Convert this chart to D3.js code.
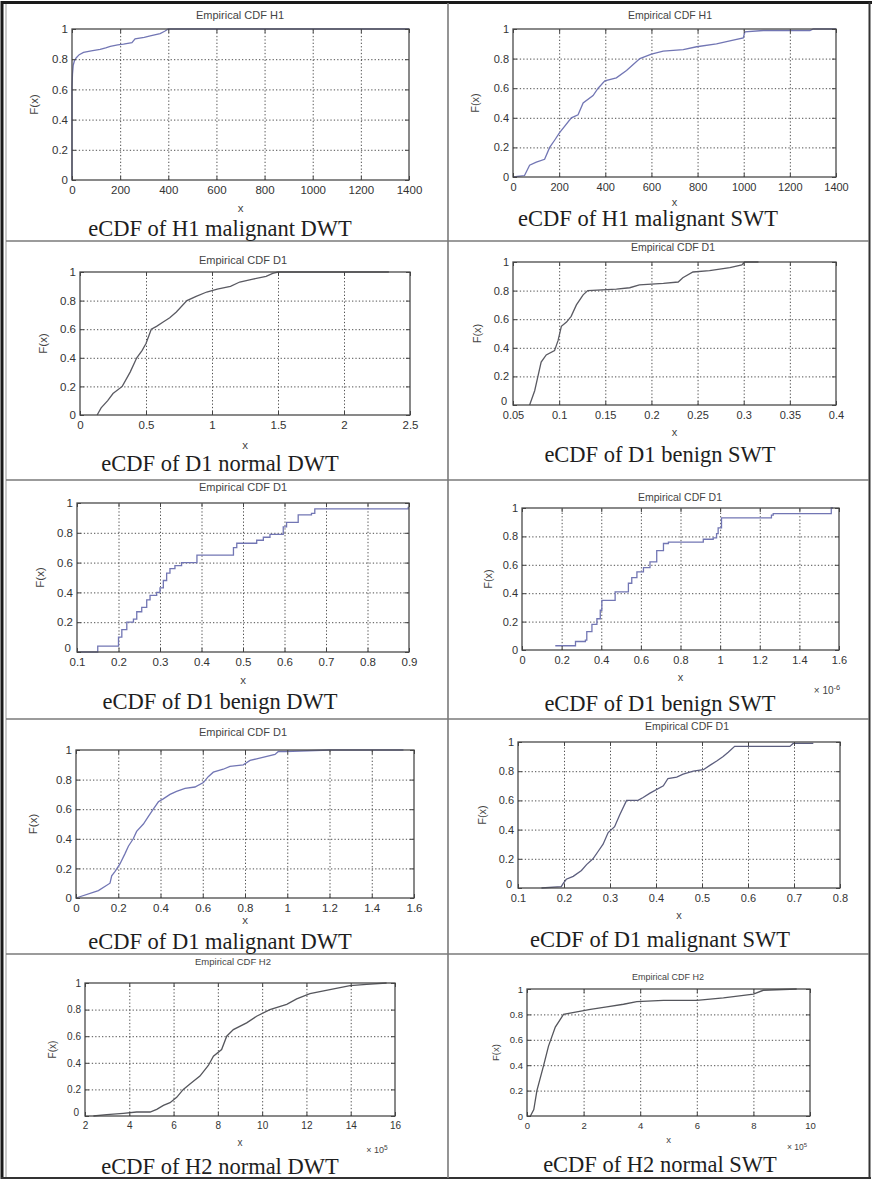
<!DOCTYPE html>
<html>
<head>
<meta charset="utf-8">
<title>eCDF panels</title>
<script src="https://cdnjs.cloudflare.com/ajax/libs/d3/7.8.5/d3.min.js"></script>
<style>
  body { margin: 0; background: #fff; }
  svg { display: block; }
  .tick text { font-family: Arial, "Liberation Sans", sans-serif; fill: #333; }
  .grid line { stroke: #3c3c3c; stroke-dasharray: 1.3,2.1; stroke-width: 0.9; }
  .grid .domain { display: none; }
  .ax .domain { display: none; }
  .ax line { stroke: #444; }
  .title, .lab { font-family: Arial, "Liberation Sans", sans-serif; fill: #444; }
  .caption { font-family: "Liberation Serif", "Times New Roman", serif; fill: #1e1e1e; }
</style>
</head>
<body>
<svg width="873" height="1181"></svg>
<script>
// ---- data (x value, F(x) value) ----
var h1MalDwtX = [0, 0, 2, 5, 10, 18, 30, 48, 80, 117, 140, 159, 190, 214, 249, 262, 300, 325, 366, 385, 400, 1400];
var h1MalDwtF = [0, 0.62, 0.7, 0.76, 0.79, 0.81, 0.83, 0.845, 0.855, 0.865, 0.875, 0.885, 0.895, 0.9, 0.91, 0.935, 0.945, 0.955, 0.97, 0.985, 1, 1];

var h1MalSwtX = [0, 50, 72, 101, 137, 159, 181, 202, 253, 282, 304, 347, 369, 398, 448, 492, 521, 550, 600, 651, 738, 796, 882, 940, 998, 1005, 1085, 1287, 1302, 1400];
var h1MalSwtF = [0, 0.01, 0.08, 0.1, 0.12, 0.2, 0.25, 0.3, 0.4, 0.42, 0.5, 0.55, 0.6, 0.65, 0.67, 0.72, 0.76, 0.8, 0.83, 0.85, 0.86, 0.88, 0.9, 0.92, 0.94, 0.98, 0.99, 0.99, 1, 1];

var d1NorDwtX = [0.13, 0.16, 0.21, 0.25, 0.32, 0.38, 0.43, 0.47, 0.5, 0.54, 0.58, 0.63, 0.68, 0.73, 0.81, 0.88, 0.96, 1.04, 1.14, 1.21, 1.31, 1.41, 1.46, 1.5, 2.34];
var d1NorDwtF = [0, 0.05, 0.1, 0.15, 0.2, 0.3, 0.4, 0.45, 0.5, 0.6, 0.62, 0.65, 0.68, 0.72, 0.8, 0.83, 0.86, 0.88, 0.9, 0.93, 0.95, 0.97, 0.99, 1, 1];

var d1BenSwtX = [0.068, 0.0735, 0.077, 0.0805, 0.086, 0.095, 0.0988, 0.1024, 0.108, 0.113, 0.1187, 0.126, 0.131, 0.162, 0.1765, 0.187, 0.213, 0.229, 0.234, 0.245, 0.263, 0.285, 0.298, 0.301, 0.316];
var d1BenSwtF = [0, 0.1, 0.2, 0.3, 0.35, 0.38, 0.45, 0.55, 0.58, 0.62, 0.7, 0.77, 0.8, 0.81, 0.82, 0.84, 0.85, 0.86, 0.89, 0.93, 0.94, 0.96, 0.98, 1, 1];

var d1BenDwtX = [0.1, 0.15, 0.2, 0.208, 0.22, 0.236, 0.244, 0.256, 0.268, 0.276, 0.292, 0.3, 0.308, 0.316, 0.324, 0.336, 0.352, 0.389, 0.477, 0.485, 0.533, 0.549, 0.565, 0.597, 0.605, 0.633, 0.665, 0.673, 0.898, 0.9];
var d1BenDwtF = [0, 0.04, 0.1, 0.15, 0.2, 0.22, 0.27, 0.3, 0.35, 0.38, 0.4, 0.43, 0.48, 0.53, 0.56, 0.58, 0.6, 0.65, 0.7, 0.73, 0.75, 0.77, 0.79, 0.84, 0.87, 0.92, 0.93, 0.96, 0.97, 0.97];

var d1BenSwt2X = [0.168, 0.27, 0.32, 0.327, 0.353, 0.378, 0.395, 0.403, 0.47, 0.537, 0.554, 0.58, 0.613, 0.646, 0.68, 0.714, 0.739, 0.915, 0.965, 0.982, 0.99, 1.007, 1.259, 1.268, 1.561, 1.57];
var d1BenSwt2F = [0.03, 0.06, 0.07, 0.13, 0.18, 0.22, 0.28, 0.35, 0.41, 0.47, 0.51, 0.55, 0.58, 0.62, 0.7, 0.75, 0.76, 0.78, 0.79, 0.82, 0.86, 0.93, 0.95, 0.96, 1, 1];

var d1MalDwtX = [0, 0.106, 0.161, 0.169, 0.185, 0.208, 0.232, 0.248, 0.271, 0.287, 0.319, 0.342, 0.366, 0.39, 0.413, 0.445, 0.476, 0.516, 0.563, 0.603, 0.626, 0.65, 0.697, 0.729, 0.792, 0.824, 0.855, 0.942, 0.958, 0.99, 1.202, 1.55];
var d1MalDwtF = [0, 0.05, 0.1, 0.15, 0.18, 0.23, 0.3, 0.35, 0.4, 0.45, 0.5, 0.55, 0.6, 0.65, 0.67, 0.7, 0.72, 0.74, 0.75, 0.78, 0.82, 0.85, 0.87, 0.89, 0.9, 0.93, 0.94, 0.97, 0.99, 0.99, 1, 1];

var d1MalSwtX = [0.151, 0.194, 0.198, 0.205, 0.22, 0.238, 0.249, 0.263, 0.274, 0.285, 0.296, 0.31, 0.321, 0.336, 0.361, 0.372, 0.387, 0.416, 0.426, 0.445, 0.459, 0.481, 0.503, 0.517, 0.532, 0.546, 0.557, 0.571, 0.691, 0.698, 0.742];
var d1MalSwtF = [0, 0.01, 0.03, 0.06, 0.08, 0.12, 0.16, 0.2, 0.25, 0.3, 0.38, 0.42, 0.5, 0.6, 0.6, 0.62, 0.65, 0.7, 0.75, 0.76, 0.78, 0.8, 0.81, 0.84, 0.87, 0.9, 0.93, 0.97, 0.97, 0.99, 0.99];

var h2NorDwtX = [2.38, 2.98, 3.73, 4.33, 4.94, 5.24, 5.54, 5.84, 6.14, 6.44, 6.74, 7.19, 7.57, 7.8, 8.17, 8.4, 8.7, 9.3, 9.75, 10.35, 11.11, 11.56, 12.16, 13.06, 13.97, 14.72, 15.62];
var h2NorDwtF = [0, 0.01, 0.02, 0.03, 0.03, 0.05, 0.08, 0.1, 0.14, 0.2, 0.24, 0.3, 0.38, 0.45, 0.5, 0.6, 0.65, 0.7, 0.75, 0.8, 0.84, 0.88, 0.92, 0.95, 0.98, 0.99, 1];

var h2NorSwtX = [0.12, 0.24, 0.35, 0.59, 0.76, 1.0, 1.29, 1.76, 2.24, 2.82, 3.41, 3.88, 4.82, 6.0, 6.94, 7.65, 8.0, 8.35, 9.53];
var h2NorSwtF = [0, 0.05, 0.2, 0.4, 0.55, 0.7, 0.8, 0.82, 0.84, 0.86, 0.88, 0.9, 0.91, 0.91, 0.93, 0.95, 0.96, 0.99, 1];

// ---- tick values ----
var yTicks = [0, 0.2, 0.4, 0.6, 0.8, 1];
var ticks1400 = [0, 200, 400, 600, 800, 1000, 1200, 1400];
var ticks25 = [0, 0.5, 1, 1.5, 2, 2.5];
var ticks04 = [0.05, 0.1, 0.15, 0.2, 0.25, 0.3, 0.35, 0.4];
var ticks09 = [0.1, 0.2, 0.3, 0.4, 0.5, 0.6, 0.7, 0.8, 0.9];
var ticks16 = [0, 0.2, 0.4, 0.6, 0.8, 1, 1.2, 1.4, 1.6];
var ticks08 = [0.1, 0.2, 0.3, 0.4, 0.5, 0.6, 0.7, 0.8];
var ticks2to16 = [2, 4, 6, 8, 10, 12, 14, 16];
var ticks10 = [0, 2, 4, 6, 8, 10];

var titles = ["Empirical CDF H1", "Empirical CDF H1", "Empirical CDF D1", "Empirical CDF D1", "Empirical CDF D1",
              "Empirical CDF D1", "Empirical CDF D1", "Empirical CDF D1", "Empirical CDF H2", "Empirical CDF H2"];
var captions = ["eCDF of H1 malignant DWT", "eCDF of H1 malignant SWT", "eCDF of D1 normal DWT", "eCDF of D1 benign SWT",
                "eCDF of D1 benign DWT", "eCDF of D1 benign SWT", "eCDF of D1 malignant DWT", "eCDF of D1 malignant SWT",
                "eCDF of H2 normal DWT", "eCDF of H2 normal SWT"];
var exponents = [null, null, null, null, null, "-6", null, null, "5", "5"];

var svg = d3.select("svg");

// table frame
var frame = svg.append("g");
frame.append("line").attr("x1", 2).attr("x2", 2).attr("y1", 1).attr("y2", 1179).attr("stroke", "#1a1a1a").attr("stroke-width", 3);
frame.append("line").attr("x1", 6).attr("x2", 6).attr("y1", 4).attr("y2", 1177).attr("stroke", "#999").attr("stroke-width", 1);
frame.append("line").attr("x1", 1).attr("x2", 872).attr("y1", 2.5).attr("y2", 2.5).attr("stroke", "#1a1a1a").attr("stroke-width", 3);
frame.append("line").attr("x1", 869.5).attr("x2", 869.5).attr("y1", 2).attr("y2", 1179).attr("stroke", "#333").attr("stroke-width", 2);
frame.append("line").attr("x1", 1).attr("x2", 871).attr("y1", 1178).attr("y2", 1178).attr("stroke", "#333").attr("stroke-width", 2);
frame.append("line").attr("x1", 448).attr("x2", 448).attr("y1", 3).attr("y2", 1178).attr("stroke", "#7a7a7a").attr("stroke-width", 1.6);
[241, 480, 719, 954].forEach(function (yy) {
  frame.append("line").attr("x1", 6).attr("x2", 869).attr("y1", yy).attr("y2", yy).attr("stroke", "#7a7a7a").attr("stroke-width", 1.6);
});

var panels = [
  { xs: h1MalDwtX, fs: h1MalDwtF, dom: [0, 1400], ticks: ticks1400, color: "#7276b4", step: false,
    box: { l: 72, r: 409, t: 29, b: 180 }, tx: 240, ty: 15, xl: 208, cx: 220, cy: 236, fs1: 11.5, ylx: 34 },
  { xs: h1MalSwtX, fs: h1MalSwtF, dom: [0, 1400], ticks: ticks1400, color: "#7276b4", step: false,
    box: { l: 513, r: 836, t: 29, b: 177 }, tx: 670, ty: 15, xl: 202, cx: 648, cy: 226, fs1: 11, ylx: 475 },
  { xs: d1NorDwtX, fs: d1NorDwtF, dom: [0, 2.5], ticks: ticks25, color: "#5a5a62", step: false,
    box: { l: 80, r: 410, t: 272, b: 415 }, tx: 243, ty: 260, xl: 445, cx: 220, cy: 471, fs1: 11.5, ylx: 43 },
  { xs: d1BenSwtX, fs: d1BenSwtF, dom: [0.05, 0.4], ticks: ticks04, color: "#5a5a62", step: false,
    box: { l: 513, r: 836, t: 262, b: 405 }, tx: 673, ty: 247, xl: 432, cx: 660, cy: 462, fs1: 11, ylx: 477 },
  { xs: d1BenDwtX, fs: d1BenDwtF, dom: [0.1, 0.9], ticks: ticks09, color: "#7276b4", step: true,
    box: { l: 77, r: 409, t: 503, b: 652 }, tx: 243, ty: 487, xl: 680, cx: 220, cy: 709, fs1: 11.5, ylx: 40 },
  { xs: d1BenSwt2X, fs: d1BenSwt2F, dom: [0, 1.6], ticks: ticks16, color: "#7276b4", step: true,
    box: { l: 522, r: 839, t: 508, b: 650 }, tx: 680, ty: 497, xl: 677, cx: 660, cy: 711, fs1: 11, ylx: 488 },
  { xs: d1MalDwtX, fs: d1MalDwtF, dom: [0, 1.6], ticks: ticks16, color: "#7276b4", step: false,
    box: { l: 76, r: 414, t: 750, b: 898 }, tx: 243, ty: 732, xl: 920, cx: 220, cy: 949, fs1: 11.5, ylx: 33 },
  { xs: d1MalSwtX, fs: d1MalSwtF, dom: [0.1, 0.8], ticks: ticks08, color: "#5c5e7e", step: false,
    box: { l: 518, r: 840, t: 742, b: 888 }, tx: 687, ty: 726, xl: 915, cx: 660, cy: 947, fs1: 11, ylx: 482 },
  { xs: h2NorDwtX, fs: h2NorDwtF, dom: [2, 16], ticks: ticks2to16, color: "#55565c", step: false,
    box: { l: 85, r: 395, t: 983, b: 1116 }, tx: 233, ty: 962, xl: 1142, cx: 220, cy: 1174, fs1: 10, ylx: 52, ex: 377, ey: 1150 },
  { xs: h2NorSwtX, fs: h2NorSwtF, dom: [0, 10], ticks: ticks10, color: "#55565c", step: false,
    box: { l: 527, r: 810, t: 989, b: 1116 }, tx: 668, ty: 977, xl: 1140, cx: 660, cy: 1172, fs1: 9.5, ylx: 496, ex: 797, ey: 1147 }
];
// exponent for panel 6
panels[5].ex = 827; panels[5].ey = 690;

panels.forEach(function (p, i) {
  var g = svg.append("g");
  var b = p.box, w = b.r - b.l, h = b.b - b.t;
  var x = d3.scaleLinear().domain(p.dom).range([b.l, b.r]);
  var y = d3.scaleLinear().domain([0, 1]).range([b.b, b.t]);
  var fmt = function (d) { return String(d); };

  // dotted grid
  g.append("g").attr("class", "grid").attr("transform", "translate(0," + b.b + ")")
    .call(d3.axisBottom(x).tickValues(p.ticks.slice(1, -1)).tickSize(-h).tickFormat(""));
  g.append("g").attr("class", "grid").attr("transform", "translate(" + b.l + ",0)")
    .call(d3.axisLeft(y).tickValues(yTicks.slice(1, -1)).tickSize(-w).tickFormat(""));

  // ecdf curve
  var pts = p.xs.map(function (v, k) { return [v, p.fs[k]]; });
  var line = d3.line().x(function (d) { return x(d[0]); }).y(function (d) { return y(d[1]); })
    .curve(p.step ? d3.curveStepAfter : d3.curveLinear);
  g.append("path").datum(pts).attr("d", line)
    .attr("fill", "none").attr("stroke", p.color).attr("stroke-width", 1.3);

  // box
  g.append("rect").attr("x", b.l).attr("y", b.t).attr("width", w).attr("height", h)
    .attr("fill", "none").attr("stroke", "#4a4a4a").attr("stroke-width", 1.3);

  // axes, ticks pointing inward
  var bx = g.append("g").attr("class", "ax").attr("transform", "translate(0," + b.b + ")")
    .call(d3.axisBottom(x).tickValues(p.ticks).tickSizeInner(-4).tickSizeOuter(0).tickPadding(6).tickFormat(fmt));
  bx.selectAll("text").style("font-size", p.fs1 + "px");
  g.append("g").attr("class", "ax").attr("transform", "translate(0," + b.t + ")")
    .call(d3.axisTop(x).tickValues(p.ticks).tickSizeInner(-4).tickSizeOuter(0).tickFormat(""));
  var ly = g.append("g").attr("class", "ax").attr("transform", "translate(" + b.l + ",0)")
    .call(d3.axisLeft(y).tickValues(yTicks).tickSizeInner(-4).tickSizeOuter(0).tickPadding(4).tickFormat(fmt));
  ly.selectAll("text").style("font-size", p.fs1 + "px");
  // the "0" label sits a little higher where the x axis does not start at 0
  if (p.dom[0] !== 0) {
    ly.selectAll(".tick text").filter(function (d) { return d === 0; }).attr("y", -4).attr("x", -6);
  }
  g.append("g").attr("class", "ax").attr("transform", "translate(" + b.r + ",0)")
    .call(d3.axisRight(y).tickValues(yTicks).tickSizeInner(-4).tickSizeOuter(0).tickFormat(""));

  // labels
  g.append("text").attr("class", "title").attr("x", p.tx).attr("y", p.ty).attr("dy", "0.35em")
    .attr("text-anchor", "middle").style("font-size", (p.fs1 - 0.5) + "px").text(titles[i]);
  g.append("text").attr("class", "lab").attr("x", (b.l + b.r) / 2).attr("y", p.xl).attr("dy", "0.35em")
    .attr("text-anchor", "middle").style("font-size", p.fs1 + "px").text("x");
  g.append("text").attr("class", "lab").attr("transform", "translate(" + p.ylx + "," + (b.t + b.b) / 2 + ") rotate(-90)")
    .attr("dy", "0.35em").attr("text-anchor", "middle").style("font-size", p.fs1 + "px").text("F(x)");
  if (exponents[i]) {
    var e = g.append("text").attr("class", "lab").attr("x", p.ex).attr("y", p.ey).attr("dy", "0.35em")
      .attr("text-anchor", "middle").style("font-size", (p.fs1 - 1) + "px").text("× 10");
    e.append("tspan").attr("dy", "-0.5em").style("font-size", (p.fs1 - 3.5) + "px").text(exponents[i]);
  }
  g.append("text").attr("class", "caption").attr("x", p.cx).attr("y", p.cy)
    .attr("text-anchor", "middle").style("font-size", "22.5px").text(captions[i]);
});
</script>
</body>
</html>
